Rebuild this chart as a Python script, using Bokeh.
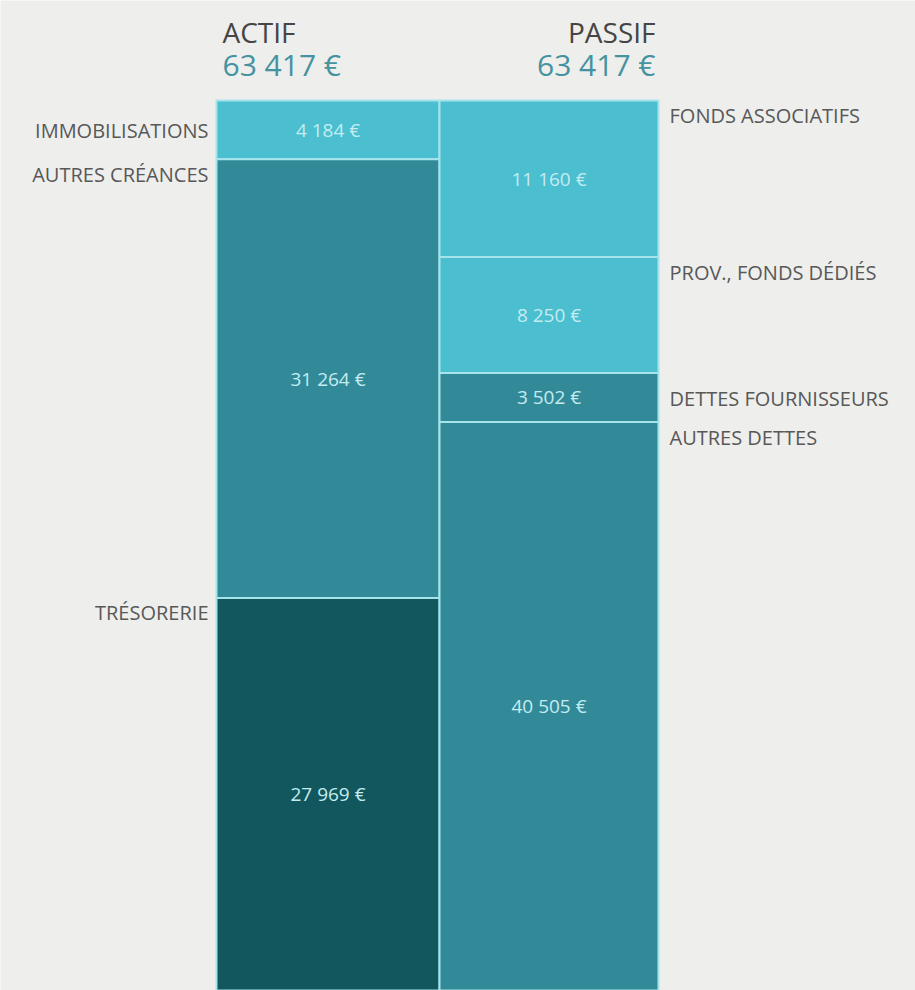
from bokeh.plotting import figure
from bokeh.models import Range1d, ColumnDataSource
from bokeh.embed import file_html
from bokeh.resources import INLINE
from bokeh.core.properties import value

# ---- data ----
headers = ["ACTIF", "PASSIF"]
actif_labels = ["IMMOBILISATIONS", "AUTRES CRÉANCES", "TRÉSORERIE"]
actif_values = [4184, 31264, 27969]
passif_labels = ["FONDS ASSOCIATIFS", "PROV., FONDS DÉDIÉS", "DETTES FOURNISSEURS", "AUTRES DETTES"]
passif_values = [11160, 8250, 3502, 40505]

# ---- styles ----
actif_colors = ["#4BBFCF", "#328A98", "#11575D"]
passif_colors = ["#4BBFCF", "#4BBFCF", "#328A98", "#328A98"]
BG = "#EEEEEC"
SEP = "#A6E4EC"
FONT = value("Open Sans")

W, H = 915, 990
TOP_PX = 100  # distance from figure top to top of bars

def fmt(v):
    return f"{v:,}".replace(",", " ") + " €"

total = sum(actif_values)
upp = total / (H - TOP_PX)  # euros per pixel

def py(pix):
    """figure pixel offset from top -> data y"""
    return (pix - TOP_PX) * upp

p = figure(width=W, height=H, output_backend="svg", toolbar_location=None,
           x_range=Range1d(0, W), y_range=Range1d(start=total, end=py(0)),
           min_border=0, background_fill_color=BG, border_fill_color=BG)
p.axis.visible = False
p.grid.visible = False
p.outline_line_color = None

columns = [
    (actif_labels, actif_values, actif_colors, 216, 439, "right", 208),
    (passif_labels, passif_values, passif_colors, 439, 658, "left", 669),
]

for labels, vals, cols, x0, x1, align, lx in columns:
    tops, bottoms = [], []
    acc = 0
    for v in vals:
        tops.append(acc)
        acc += v
        bottoms.append(acc)
    src = ColumnDataSource(dict(
        left=[x0] * len(vals), right=[x1] * len(vals), top=tops, bottom=bottoms,
        color=cols, label=labels, txt=[fmt(v) for v in vals],
        cx=[(x0 + x1) / 2] * len(vals),
        cy=[(t + b) / 2 for t, b in zip(tops, bottoms)],
        ly=[((t + b) / 2 + 1 * upp) if v < 5000 else (t + 15 * upp)
            for t, b, v in zip(tops, bottoms, vals)],
        lx=[lx] * len(vals),
    ))
    p.quad(left="left", right="right", top="top", bottom="bottom", source=src,
           fill_color="color", line_color=SEP, line_width=2)
    p.text(x="cx", y="cy", text="txt", source=src, text_align="center",
           text_baseline="middle", text_color="#C4ECF1", text_font=FONT,
           text_font_size="19px")
    p.text(x="lx", y="ly", text="label", source=src, text_align=align,
           text_baseline="middle", text_color="#585858", text_font=FONT,
           text_font_size="20px")

# headers
hsrc = ColumnDataSource(dict(
    x=[222, 655], y=[py(31), py(31)], t=headers, a=["left", "right"]))
p.text(x="x", y="y", text="t", source=hsrc, text_align="a",
       text_baseline="middle", text_color="#454545", text_font=FONT,
       text_font_size="28px")
tsrc = ColumnDataSource(dict(
    x=[222, 655], y=[py(64), py(64)],
    t=[fmt(sum(actif_values)), fmt(sum(passif_values))], a=["left", "right"]))
p.text(x="x", y="y", text="t", source=tsrc, text_align="a",
       text_baseline="middle", text_color="#4593A0", text_font=FONT,
       text_font_size="30px")

html = file_html(p, INLINE)
html = html.replace("<body>", f'<body style="background:{BG}">', 1)
open("out.html", "w").write(html)
